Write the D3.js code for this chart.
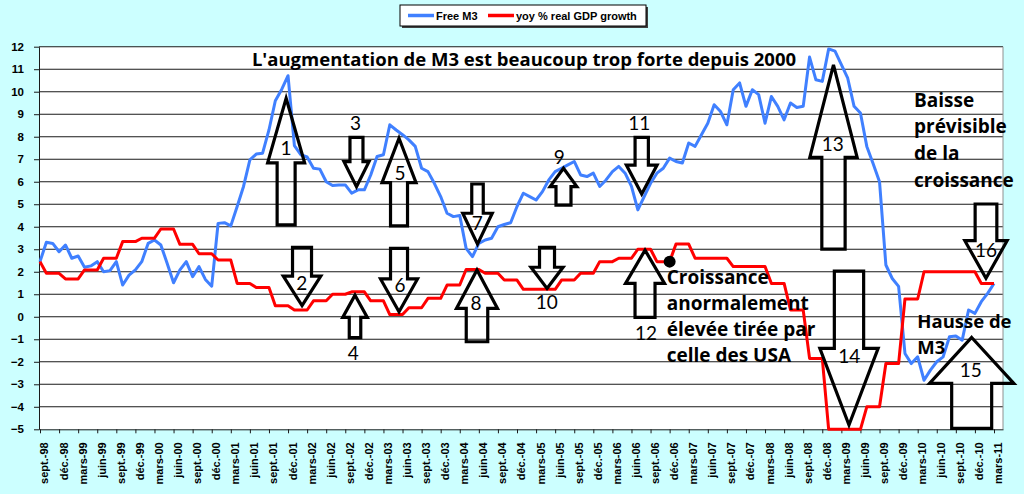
<!DOCTYPE html>
<html>
<head>
<meta charset="utf-8">
<script src="https://cdnjs.cloudflare.com/ajax/libs/d3/7.8.5/d3.min.js"></script>
<style>
body { margin:0; background:#ccffff; }
svg { display:block; }
</style>
</head>
<body>
<svg id="chart" width="1024" height="494"></svg>
<script>
// tick labels, one every 3 months (sept.-98 .. mars-11)
var monthLabels = ["sept.-98","déc.-98",
	"mars-99","juin-99","sept.-99","déc.-99",
	"mars-00","juin-00","sept.-00","déc.-00",
	"mars-01","juin-01","sept.-01","déc.-01",
	"mars-02","juin-02","sept.-02","déc.-02",
	"mars-03","juin-03","sept.-03","déc.-03",
	"mars-04","juin-04","sept.-04","déc.-04",
	"mars-05","juin-05","sept.-05","déc.-05",
	"mars-06","juin-06","sept.-06","déc.-06",
	"mars-07","juin-07","sept.-07","déc.-07",
	"mars-08","juin-08","sept.-08","déc.-08",
	"mars-09","juin-09","sept.-09","déc.-09",
	"mars-10","juin-10","sept.-10","déc.-10",
	"mars-11"];

var yTicks = [-5,-4,-3,-2,-1,0,1,2,3,4,5,6,7,8,9,10,11,12];

// monthly Free M3 (sept.-98 .. mars-11)
var freeM3 = [2.45,3.31,3.26,2.89,3.19,2.6,2.7,2.2,2.26,2.45,
	2.0,2.05,2.45,1.41,1.85,2.08,2.45,3.26,3.41,3.19,
	2.37,1.51,2.08,2.45,1.78,2.23,1.66,1.36,4.15,4.18,
	4.04,4.9,5.79,6.97,7.23,7.27,8.3,9.6,10.1,10.71,
	7.6,7.2,7.1,6.6,6.56,6.0,5.83,5.85,5.86,5.49,
	5.64,5.64,6.3,7.12,7.2,8.53,8.3,8.09,7.86,7.57,
	6.6,6.45,5.93,5.34,4.6,4.45,4.5,3.04,2.67,3.26,
	3.41,3.49,4.0,4.1,4.18,4.9,5.49,5.34,5.19,5.56,
	6.08,6.45,6.6,6.75,6.9,6.3,6.23,6.38,5.79,6.08,
	6.45,6.68,6.38,5.79,4.75,5.34,5.93,6.38,6.6,7.05,
	6.9,6.83,7.72,7.57,8.09,8.6,9.42,9.12,8.53,10.09,
	10.39,9.35,10.09,9.87,8.6,9.79,9.35,8.75,9.5,9.3,
	9.35,11.54,10.53,10.46,11.9,11.8,11.2,10.6,9.35,9.05,
	7.57,6.8,6.0,2.3,1.7,1.35,-1.63,-2.08,-1.78,-2.82,
	-2.37,-2.0,-1.78,-0.89,-0.85,-1.04,0.3,0.15,0.67,1.04,
	1.48];

// quarterly yoy % real GDP growth (Q3-98 .. Q1-11), repeated on each month of the quarter
var gdpQuarter = [2.45,1.93,1.68,2.08,2.6,3.34,3.49,3.9,3.22,2.8,
	2.52,1.48,1.3,0.49,0.3,0.71,1.0,1.11,0.71,0.1,
	0.4,0.82,1.41,2.1,1.93,1.63,1.22,1.22,1.63,1.93,
	2.45,2.6,3.0,2.45,3.23,2.6,2.6,2.23,2.23,1.48,
	0.3,-1.85,-5,-5,-4.0,-2.08,0.79,2.0,2.0,2.0,
	1.48];

var seriesNames = ["Free M3","yoy % real GDP growth"];
var seriesColors = ["#4080ff","#ff0000"];

// numbered arrows : month index, tip / neck / tail values, shaft and head widths (px), label position
var arrows = [
	{n:"1", m:38.7, tip:9.71, neck:6.84, tail:4.08, sw:18, hw:37, lm:38.7, lv:7.5},
	{n:"2", m:41.2, tip:0.5, neck:1.81, tail:3.08, sw:19, hw:37.5, lm:41.15, lv:1.5},
	{n:"3", m:49.76, tip:5.78, neck:6.89, tail:7.97, sw:13, hw:25, lm:49.6, lv:8.61},
	{n:"4", m:49.53, tip:0.96, neck:-0.03, tail:-0.93, sw:11.5, hw:24.6, lm:49.26, lv:-1.61},
	{n:"5", m:56.45, tip:7.93, neck:5.96, tail:4.04, sw:17, hw:34, lm:56.6, lv:6.39},
	{n:"6", m:56.45, tip:0.22, neck:1.68, tail:3.04, sw:17, hw:37, lm:56.6, lv:1.41},
	{n:"7", m:68.79, tip:3.23, neck:4.6, tail:5.9, sw:11.5, hw:29.5, lm:68.76, lv:4.18},
	{n:"8", m:68.71, tip:2.08, neck:0.37, tail:-1.11, sw:21.5, hw:41, lm:68.55, lv:0.6},
	{n:"9", m:82.31, tip:6.6, neck:5.78, tail:4.96, sw:15, hw:26.7, lm:81.65, lv:7.08},
	{n:"10", m:79.72, tip:1.26, neck:2.2, tail:3.08, sw:15, hw:32, lm:79.67, lv:0.64},
	{n:"11", m:94.61, tip:5.45, neck:6.74, tail:7.97, sw:13.3, hw:30.7, lm:94.23, lv:8.6},
	{n:"12", m:95.13, tip:2.96, neck:1.48, tail:-0.03, sw:20, hw:39, lm:95.28, lv:-0.74},
	{n:"13", m:124.76, tip:11.19, neck:7.08, tail:3.01, sw:23.3, hw:47.3, lm:124.64, lv:7.68},
	{n:"14", m:127.2, tip:-4.81, neck:-1.4, tail:2.03, sw:29.3, hw:58.3, lm:127.25, lv:-1.75},
	{n:"15", m:146.49, tip:-0.92, neck:-2.96, tail:-4.96, sw:40, hw:84.3, lm:146.34, lv:-2.37},
	{n:"16", m:148.74, tip:1.71, neck:3.38, tail:5.01, sw:21.7, hw:42.3, lm:148.74, lv:2.96}
];

var titleText = "L'augmentation de M3 est beaucoup trop forte depuis 2000";
var noteBaisse = ["Baisse","prévisible","de la","croissance"];
var noteCroissance = ["Croissance","anormalement","élevée tirée par","celle des USA"];
var noteHausse = ["Hausse de","M3"];
var dotMonth = 99;

var svg = d3.select("#chart");
var plotLeft = 39, plotRight = 1003, plotTop = 46.7, plotBottom = 429.3;
var monthW = 6.36;

var x = d3.scaleLinear().domain([(plotLeft-40)/monthW, (plotRight-40)/monthW]).range([plotLeft, plotRight]);
var y = d3.scaleLinear().domain([-5, 12]).range([plotBottom, plotTop]);

var gdpMonthly = freeM3.map(function(d, i) { return gdpQuarter[Math.ceil(i/3)]; });

// plot area
svg.append("rect")
	.attr("x", plotLeft).attr("y", plotTop)
	.attr("width", plotRight-plotLeft).attr("height", plotBottom-plotTop)
	.attr("fill", "#ffffff");

svg.append("g").selectAll("line")
	.data(yTicks.slice(1))
	.join("line")
	.attr("x1", plotLeft).attr("x2", plotRight)
	.attr("y1", function(d) { return y(d); })
	.attr("y2", function(d) { return y(d); })
	.attr("stroke", "#1a1a1a")
	.attr("stroke-width", 1.1);

svg.append("line")
	.attr("x1", plotRight).attr("x2", plotRight).attr("y1", plotTop).attr("y2", plotBottom)
	.attr("stroke", "#909090");

// axes
var yAxis = svg.append("g")
	.attr("transform", "translate(" + plotLeft + ",0)")
	.call(d3.axisLeft(y).tickValues(yTicks).tickSize(5).tickPadding(10).tickSizeOuter(0));
yAxis.select(".domain").attr("stroke", "#1a1a1a");
yAxis.selectAll("line").attr("stroke", "#1a1a1a");
yAxis.selectAll("text")
	.attr("font-family", "'Liberation Sans', Arial, sans-serif")
	.attr("font-size", 11.5)
	.attr("font-weight", "bold")
	.attr("fill", "#000");

var xAxis = svg.append("g")
	.attr("transform", "translate(0," + plotBottom + ")")
	.call(d3.axisBottom(x)
		.tickValues(d3.range(0, 151, 3))
		.tickSize(4)
		.tickSizeOuter(0)
		.tickFormat(function(d, k) { return monthLabels[k]; }));
xAxis.select(".domain").attr("stroke", "#1a1a1a");
xAxis.selectAll("line").attr("stroke", "#1a1a1a");
xAxis.selectAll("text")
	.attr("transform", "rotate(-90)")
	.attr("text-anchor", "end")
	.attr("x", -13)
	.attr("y", 4)
	.attr("dy", "0.36em")
	.attr("font-family", "'Liberation Sans', Arial, sans-serif")
	.attr("font-size", 11)
	.attr("font-weight", "bold")
	.attr("fill", "#000");

// series
var line = d3.line()
	.x(function(d, i) { return x(i); })
	.y(function(d) { return y(d); });

[freeM3, gdpMonthly].forEach(function(s, k) {
	svg.append("path")
		.datum(s)
		.attr("d", line)
		.attr("fill", "none")
		.attr("stroke", seriesColors[k])
		.attr("stroke-width", 3)
		.attr("stroke-linejoin", "round");
});

// legend
svg.append("rect")
	.attr("x", 402).attr("y", 7).attr("width", 246).attr("height", 21)
	.attr("fill", "#404040");
svg.append("rect")
	.attr("x", 400).attr("y", 5).attr("width", 246).attr("height", 21)
	.attr("fill", "#ffffff").attr("stroke", "#000").attr("stroke-width", 1);
var legendX = [408, 488];
seriesNames.forEach(function(name, k) {
	svg.append("line")
		.attr("x1", legendX[k]).attr("x2", legendX[k] + 26)
		.attr("y1", 15.5).attr("y2", 15.5)
		.attr("stroke", seriesColors[k])
		.attr("stroke-width", 3.5);
	svg.append("text")
		.attr("x", legendX[k] + 28).attr("y", 19.5)
		.attr("font-family", "'Liberation Sans', Arial, sans-serif")
		.attr("font-size", 11)
		.attr("font-weight", 600)
		.text(name);
});

// arrows
function arrowPath(a) {
	var cx = x(a.m), t = y(a.tip), n = y(a.neck), b = y(a.tail);
	var s = a.sw/2, h = a.hw/2;
	return "M" + cx + "," + t +
		"L" + (cx+h) + "," + n +
		"L" + (cx+s) + "," + n +
		"L" + (cx+s) + "," + b +
		"L" + (cx-s) + "," + b +
		"L" + (cx-s) + "," + n +
		"L" + (cx-h) + "," + n + "Z";
}

svg.append("g").selectAll("path")
	.data(arrows)
	.join("path")
	.attr("d", arrowPath)
	.attr("fill", "none")
	.attr("stroke", "#000")
	.attr("stroke-width", 3.2)
	.attr("stroke-linejoin", "miter");

svg.append("g").selectAll("text")
	.data(arrows)
	.join("text")
	.attr("x", function(d) { return x(d.lm); })
	.attr("y", function(d) { return y(d.lv); })
	.attr("dy", "0.36em")
	.attr("text-anchor", "middle")
	.attr("font-family", "Lato, sans-serif")
	.attr("font-size", 19)
	.attr("fill", "#000")
	.text(function(d) { return d.n; });

// notes
var noteFont = "'Open Sans', sans-serif";
svg.append("text")
	.attr("x", x(76.1)).attr("y", y(11.14))
	.attr("text-anchor", "middle")
	.attr("font-family", noteFont)
	.attr("font-weight", "bold")
	.attr("font-size", 18.5)
	.text(titleText);

function noteBlock(lines, m, v, step, size) {
	svg.append("g").selectAll("text")
		.data(lines)
		.join("text")
		.attr("x", x(m))
		.attr("y", function(d, k) { return y(v) + k*step; })
		.attr("font-family", noteFont)
		.attr("font-weight", "bold")
		.attr("font-size", size)
		.text(function(d) { return d; });
}
noteBlock(noteBaisse, 137.42, 9.33, 26.7, 19);
noteBlock(noteCroissance, 98.54, 1.45, 25.9, 19);
noteBlock(noteHausse, 137.94, -0.52, 26, 18.5);

svg.append("circle")
	.attr("cx", x(dotMonth)).attr("cy", y(gdpMonthly[dotMonth]))
	.attr("r", 6)
	.attr("fill", "#000");
</script>
</body>
</html>
